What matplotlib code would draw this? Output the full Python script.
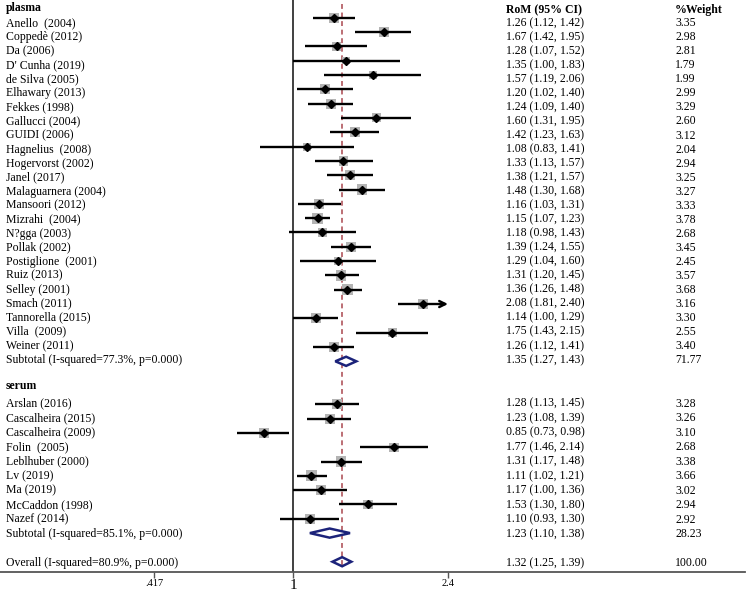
import numpy as np
import matplotlib
matplotlib.use('Agg')
import matplotlib.pyplot as plt
import matplotlib.transforms as mtransforms
from matplotlib.patches import Polygon
from matplotlib.ticker import NullLocator

plt.rcParams['font.family'] = ['Liberation Serif', 'DejaVu Serif']

# ---------------- data ----------------
plasma_studies = ["Anello  (2004)", "Coppedè (2012)", "Da (2006)", "D' Cunha (2019)",
                  "de Silva (2005)", "Elhawary (2013)", "Fekkes (1998)", "Gallucci (2004)",
                  "GUIDI (2006)", "Hagnelius  (2008)", "Hogervorst (2002)", "Janel (2017)",
                  "Malaguarnera (2004)", "Mansoori (2012)", "Mizrahi  (2004)", "N?gga (2003)",
                  "Pollak (2002)", "Postiglione  (2001)", "Ruiz (2013)", "Selley (2001)",
                  "Smach (2011)", "Tannorella (2015)", "Villa  (2009)", "Weiner (2011)"]
plasma_est = [1.26, 1.67, 1.28, 1.35, 1.57, 1.20, 1.24, 1.60, 1.42, 1.08, 1.33, 1.38,
              1.48, 1.16, 1.15, 1.18, 1.39, 1.29, 1.31, 1.36, 2.08, 1.14, 1.75, 1.26]
plasma_lo = [1.12, 1.42, 1.07, 1.00, 1.19, 1.02, 1.09, 1.31, 1.23, 0.83, 1.13, 1.21,
             1.30, 1.03, 1.07, 0.98, 1.24, 1.04, 1.20, 1.26, 1.81, 1.00, 1.43, 1.12]
plasma_hi = [1.42, 1.95, 1.52, 1.83, 2.06, 1.40, 1.40, 1.95, 1.63, 1.41, 1.57, 1.57,
             1.68, 1.31, 1.23, 1.43, 1.55, 1.60, 1.45, 1.48, 2.40, 1.29, 2.15, 1.41]
plasma_w = [3.35, 2.98, 2.81, 1.79, 1.99, 2.99, 3.29, 2.60, 3.12, 2.04, 2.94, 3.25,
            3.27, 3.33, 3.78, 2.68, 3.45, 2.45, 3.57, 3.68, 3.16, 3.30, 2.55, 3.40]

serum_studies = ["Arslan (2016)", "Cascalheira (2015)", "Cascalheira (2009)", "Folin  (2005)",
                 "Leblhuber (2000)", "Lv (2019)", "Ma (2019)", "McCaddon (1998)", "Nazef (2014)"]
serum_est = [1.28, 1.23, 0.85, 1.77, 1.31, 1.11, 1.17, 1.53, 1.10]
serum_lo = [1.13, 1.08, 0.73, 1.46, 1.17, 1.02, 1.00, 1.30, 0.93]
serum_hi = [1.45, 1.39, 0.98, 2.14, 1.48, 1.21, 1.36, 1.80, 1.30]
serum_w = [3.28, 3.26, 3.10, 2.68, 3.38, 3.66, 3.02, 2.94, 2.92]

subtotal_labels = ["Subtotal (I-squared=77.3%, p=0.000)", "Subtotal (I-squared=85.1%, p=0.000)"]
subtotal_est = [1.35, 1.23]
subtotal_lo = [1.27, 1.10]
subtotal_hi = [1.43, 1.38]
subtotal_w = [71.77, 28.23]

overall_label = "Overall (I-squared=80.9%, p=0.000)"
overall_est, overall_lo, overall_hi, overall_w = 1.32, 1.25, 1.39, 100.00

group_names = ["plasma", "serum"]
col_headers = ["RoM (95% CI)", "%Weight"]
tick_labels = [".417", "1", "2.4"]
# tick positions as they appear in the reference picture
tick_vals = [0.456, 1.0, 2.4]
axis_max = 2.4

# ---------------- figure ----------------
W, H = 753, 594
fig = plt.figure(figsize=(W / 100, H / 100), dpi=100)
axis_y_px = 571.7
ax = fig.add_axes([0, 1 - axis_y_px / H, 745 / W, axis_y_px / H])
ax.set_xscale('log')
px_per_ln = 177.0
one_px = 293.0
ax.set_xlim(np.exp(-one_px / px_per_ln), np.exp((745 - one_px) / px_per_ln))
row_px = 14.316
row0_px = 3.4
ax.set_ylim((axis_y_px - row0_px) / row_px, -row0_px / row_px)

trans = mtransforms.blended_transform_factory(ax.transAxes, ax.transData)
x_lab = 6 / 745
x_ci = 506 / 745
x_w = 675 / 745
fs = 8.5

# text offset (in rows) relative to the marks, as in the reference layout
off_rows = [1, 21, 25, 28, 39]
off_vals = [0.40, -0.03, -0.10, -0.04, 0.11]

def toff(r):
    return float(np.interp(r, off_rows, off_vals))

ax.axvline(1.0, color='#404040', lw=1.4, zorder=1)
ax.vlines(overall_est, 0.05, 39.4, colors='#a9464e', linestyles=(0, (3.2, 2.4)), lw=1.1, zorder=1)

def row_text(y, name, e, l, h, w):
    yt = y + toff(y)
    ax.text(x_lab, yt, name, transform=trans, ha='left', va='center', fontsize=fs)
    ax.text(x_ci, yt, f"{e:.2f} ({l:.2f}, {h:.2f})", transform=trans, ha='left', va='center', fontsize=fs)
    ax.text(x_w, yt, f"{w:.2f}", transform=trans, ha='left', va='center', fontsize=fs)

def draw_study(y, name, e, l, h, w):
    row_text(y, name, e, l, h, w)
    side_pt = 5.6 * np.sqrt(w) * 0.72
    ax.scatter([e], [y], marker='s', s=side_pt ** 2, color='#b4b4b4', edgecolors='none', zorder=2)
    if h >= axis_max:
        ax.hlines(y, l, h * 0.985, color='black', lw=1.7, zorder=3)
        ax.annotate('', xy=(h, y), xytext=(h * 0.95, y),
                    arrowprops=dict(arrowstyle='->', lw=1.7, color='black', mutation_scale=11,
                                    shrinkA=0, shrinkB=0), zorder=3)
    else:
        ax.hlines(y, l, h, color='black', lw=1.7, zorder=3)
    ax.plot([e], [y], marker='D', color='black', ms=3.6, zorder=4)

def draw_diamond(y, label, e, l, h, w):
    row_text(y, label, e, l, h, w)
    hh = 0.32
    poly = Polygon([(l, y), (e, y - hh), (h, y), (e, y + hh)], closed=True, fill=False,
                   edgecolor='#1c237a', lw=1.8, zorder=5, joinstyle='miter')
    ax.add_patch(poly)

# headers
ax.text(x_lab, 0.32, group_names[0], transform=trans, ha='left', va='center', fontsize=fs, fontweight='bold')
ax.text(x_ci, 0.45, col_headers[0], transform=trans, ha='left', va='center', fontsize=fs, fontweight='bold')
ax.text(x_w, 0.45, col_headers[1], transform=trans, ha='left', va='center', fontsize=fs, fontweight='bold')

row = 1
for i in range(len(plasma_studies)):
    draw_study(row, plasma_studies[i], plasma_est[i], plasma_lo[i], plasma_hi[i], plasma_w[i])
    row += 1
draw_diamond(row, subtotal_labels[0], subtotal_est[0], subtotal_lo[0], subtotal_hi[0], subtotal_w[0])
row += 2
ax.text(x_lab, row - 0.24, group_names[1], transform=trans, ha='left', va='center', fontsize=fs, fontweight='bold')
row += 1
for i in range(len(serum_studies)):
    draw_study(row, serum_studies[i], serum_est[i], serum_lo[i], serum_hi[i], serum_w[i])
    row += 1
draw_diamond(row, subtotal_labels[1], subtotal_est[1], subtotal_lo[1], subtotal_hi[1], subtotal_w[1])
row += 2
draw_diamond(row, overall_label, overall_est, overall_lo, overall_hi, overall_w)

# axes styling
for s in ['top', 'left', 'right']:
    ax.spines[s].set_visible(False)
ax.spines['bottom'].set_color('#555555')
ax.spines['bottom'].set_linewidth(1.3)
ax.set_yticks([])
ax.xaxis.set_minor_locator(NullLocator())
ax.set_xticks(tick_vals)
ax.set_xticklabels(tick_labels)
ax.tick_params(axis='x', direction='out', length=4, width=1.0, color='#555555', pad=1.5)
sizes = [7.5, 11, 7.5]
for lab, sz in zip(ax.get_xticklabels(), sizes):
    lab.set_fontsize(sz)

fig.savefig('out.png', dpi=100)
